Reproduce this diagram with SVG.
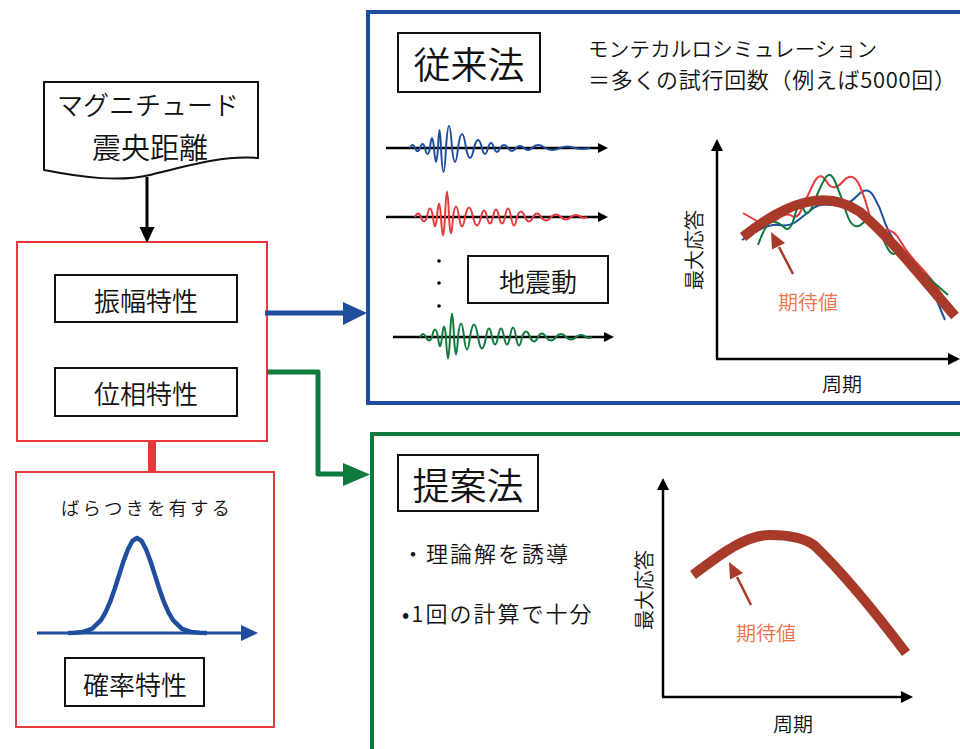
<svg xmlns="http://www.w3.org/2000/svg" width="960" height="749" viewBox="0 0 960 749">
<style>
text{font-family:"Noto Sans CJK JP","Liberation Sans",sans-serif;fill:#111;font-weight:350;}
.c{text-anchor:middle;dominant-baseline:central;}
.box{fill:#fff;stroke:#111;stroke-width:2;}
.red{fill:#fff;stroke:#e8393c;stroke-width:2;}
.ax{stroke:#000;stroke-width:2.5;fill:none;}
.axh{fill:#000;}
.wave{fill:none;stroke-width:2;stroke-linejoin:round;}
.thick{fill:none;stroke:#a83a2a;stroke-width:10;stroke-linecap:butt;}
.ev{fill:#f07048;font-size:20px;}
.ptr{stroke:#a83a2a;stroke-width:2.5;}
.ptrh{fill:#a83a2a;}
</style>
<rect width="960" height="749" fill="#fff"/>

<g id="conventional-panel">
<rect x="368" y="12" width="700" height="391" fill="#fff" stroke="#1f4e9e" stroke-width="4"/>
<rect class="box" x="398" y="33" width="142" height="59"/>
<text class="c" x="469" y="63" font-size="37">従来法</text>
<text x="588" y="57" font-size="20.5" textLength="289" lengthAdjust="spacing">モンテカルロシミュレーション</text>
<text x="588" y="88" font-size="22" textLength="368" lengthAdjust="spacing">＝多くの試行回数（例えば5000回）</text>
</g>

<g id="waveforms">
<line class="ax" x1="386" y1="148" x2="600" y2="148"/><path class="axh" d="M598,143 L608,148 L598,153 Z"/>
<path class="wave" stroke="#1f4e9e" d="M410,148 Q412.5,142 415,148 Q417.5,154 420,148 Q422.5,140 425,148 Q427.5,160 430,148 Q432,128 434,148 Q436,176 438,148 Q439.5,112 441,148 Q443.5,196 446,148 Q449,104 452,148 Q455,176 458,148 Q462,120 466,148 Q470,168 474,148 Q478,132 482,148 Q485,160 488,148 Q491,138 494,148 Q497,156 500,148 Q504,142 508,148 Q512,154 516,148 Q520,144 524,148 Q528,152 532,148 Q538,142 545,148 Q552,152 560,148 Q568,145 575,148 Q582,150 590,148"/>
<line class="ax" x1="386" y1="217" x2="600" y2="217"/><path class="axh" d="M598,212 L608,217 L598,222 Z"/>
<path class="wave" stroke="#e8393c" d="M415,217 Q418,210 421,217 Q424,226 427,217 Q430,200 433,217 Q435,236 437,217 Q439,190 441,217 Q443,254 445,217 Q447,166 449,217 Q451,250 453,217 Q456,196 459,217 Q462,236 465,217 Q469,198 473,217 Q477,234 481,217 Q484,204 487,217 Q490,230 493,217 Q496,202 499,217 Q502,230 505,217 Q508,200 511,217 Q514,234 517,217 Q521,206 525,217 Q529,226 533,217 Q537,210 541,217 Q546,224 551,217 Q556,212 561,217 Q566,222 571,217 Q576,213 581,217 Q584,219 587,217"/>
<circle cx="439" cy="261" r="1.8" fill="#000"/><circle cx="439" cy="283" r="1.8" fill="#000"/><circle cx="439" cy="306" r="1.8" fill="#000"/>
<line class="ax" x1="393" y1="337" x2="606" y2="337"/><path class="axh" d="M604,332 L614,337 L604,342 Z"/>
<path class="wave" stroke="#0e7a3c" d="M420,337 Q423,331 426,337 Q429,344 432,337 Q435,322 438,337 Q440,356 442,337 Q444,316 446,337 Q448,380 450,337 Q452,290 454,337 Q456,372 458,337 Q461,310 464,337 Q467,362 470,337 Q474,312 478,337 Q482,360 486,337 Q489,320 492,337 Q495,352 498,337 Q501,320 504,337 Q507,352 510,337 Q513,318 516,337 Q519,354 522,337 Q526,326 530,337 Q534,346 538,337 Q542,330 546,337 Q551,344 556,337 Q561,331 566,337 Q571,342 576,337 Q581,333 586,337 Q589,339 592,337"/>
</g>

<g id="ground-motion-label">
<rect class="box" x="468" y="256" width="140" height="47"/>
<text class="c" x="538" y="280" font-size="26">地震動</text>
</g>

<g id="chart-conventional">
<line class="ax" x1="717" y1="359" x2="717" y2="150" stroke-width="3"/><path class="axh" d="M711,151 L717,139 L723,151 Z"/>
<line class="ax" x1="716" y1="359" x2="950" y2="359" stroke-width="3"/><path class="axh" d="M948,353 L960,359 L948,365 Z"/>
<text class="c" x="693" y="250" font-size="20" transform="rotate(-90 693 250)">最大応答</text>
<text class="c" x="842" y="383" font-size="20">周期</text>
<path class="wave" stroke="#1f4e9e" d="M742,240 Q767,223 778.5,225 Q790,227 798.5,220 Q807,213 813.5,208 Q820,203 833.5,205 Q847,207 857,196 Q867,185 873.5,196 Q880,207 883.5,218.5 Q887,230 897,245 Q907,260 917,268.5 Q927,277 936,298.5 L945,320"/>
<path class="wave" stroke="#e8393c" d="M743,213 L755,220 Q767,227 777,219.5 Q787,212 792,216 Q797,220 802,208.5 Q807,197 813.5,183.5 Q820,170 826.5,181.5 Q833,193 843,181.5 Q853,170 860,186.5 Q867,203 870,218 Q873,233 883,230.5 Q893,228 900,240.5 Q907,253 920,266.5 Q933,280 943,296.5 L953,313"/>
<path class="wave" stroke="#0e7a3c" d="M758,245 Q767,220 773.5,221.5 Q780,223 785,228 Q790,233 795,215 Q800,197 803.5,208.5 Q807,220 813.5,203.5 Q820,187 825,178.5 Q830,170 835,181.5 Q840,193 846.5,213 Q853,233 863,223 Q873,213 881.5,235 Q890,257 895,253.5 Q900,250 911.5,261.5 Q923,273 935.5,284 L948,295"/>
<path class="thick" d="M743,237 C785,203 825,188 860,212 C893,240 925,282 955,316"/>
<line class="ptr" x1="793" y1="274" x2="779" y2="247"/>
<path class="ptrh" d="M771,232 L785,243 L772,249.5 Z"/>
<text class="c ev" x="808" y="301">期待値</text>
</g>

<g id="proposed-panel">
<rect x="372" y="434" width="700" height="400" fill="#fff" stroke="#0e7a3c" stroke-width="4"/>
<rect class="box" x="398" y="455" width="140" height="56"/>
<text class="c" x="468" y="484" font-size="37">提案法</text>
<text x="402" y="552" font-size="22" dominant-baseline="central" letter-spacing="2">・理論解を誘導</text>
<text x="402" y="612" font-size="22" dominant-baseline="central" letter-spacing="2">•1回の計算で十分</text>
</g>

<g id="chart-proposed">
<line class="ax" x1="663" y1="697" x2="663" y2="489" stroke-width="3"/><path class="axh" d="M657,490 L663,478 L669,490 Z"/>
<line class="ax" x1="662" y1="697" x2="903" y2="697" stroke-width="3"/><path class="axh" d="M901,691 L913,697 L901,703 Z"/>
<text class="c" x="643" y="590" font-size="20" transform="rotate(-90 643 590)">最大応答</text>
<text class="c" x="793" y="723" font-size="20">周期</text>
<path class="thick" d="M693,575 C720,555 745,535 770,535 C790,535 805,538 815,546 C845,575 875,612 906,653"/>
<line class="ptr" x1="751" y1="605" x2="737" y2="577"/>
<path class="ptrh" d="M729,562 L743,573 L730,579.5 Z"/>
<text class="c ev" x="766" y="632">期待値</text>
</g>

<g id="input-document">
<path d="M44,82 L258,82 L258,158 C225,155 190,165 150,175 C120,182 85,178 44,170 Z" fill="#fff" stroke="#111" stroke-width="2"/>
<text class="c" x="148" y="103" font-size="26">マグニチュード</text>
<text class="c" x="150" y="146" font-size="29">震央距離</text>
</g>

<g id="characteristics">
<rect class="red" x="17" y="242" width="250" height="199"/>
<rect class="box" x="55" y="275" width="182" height="47"/>
<text class="c" x="146" y="299" font-size="26">振幅特性</text>
<rect class="box" x="55" y="368" width="182" height="48"/>
<text class="c" x="146" y="392" font-size="26">位相特性</text>
</g>

<g id="probability">
<rect class="red" x="16" y="472" width="258" height="255"/>
<text class="c" x="147" y="507" font-size="18.5" letter-spacing="3">ばらつきを有する</text>
<line x1="37" y1="633" x2="245" y2="633" stroke="#1f4e9e" stroke-width="3"/>
<path d="M241,625 L258,633 L241,641 Z" fill="#1f4e9e"/>
<polyline fill="none" stroke="#1f4e9e" stroke-width="4.5" stroke-linejoin="round" points="68,633 74,632.8 83,631.9 92,628.8 101,620.1 105.5,612.4 110,602.2 114.5,589.5 119,575.4 123.5,561.3 128,549.2 132.5,540.9 137,538 141.5,540.9 146,549.2 150.5,561.3 155,575.4 159.5,589.5 164,602.2 168.5,612.4 173,620.1 182,628.8 191,631.9 200,632.8 207,633"/>
<rect class="box" x="65" y="658" width="139" height="48"/>
<text class="c" x="135" y="683" font-size="26">確率特性</text>
</g>

<g id="connectors">
<line x1="147" y1="177" x2="147" y2="228" stroke="#000" stroke-width="3"/>
<path d="M139.5,227 L147,243 L154.5,227 Z" fill="#000"/>
<line x1="152" y1="441" x2="152" y2="472" stroke="#e8393c" stroke-width="8"/>
<line x1="265" y1="313" x2="345" y2="313" stroke="#1f4e9e" stroke-width="5"/>
<path d="M343,302 L367,313 L343,325 Z" fill="#1f4e9e"/>
<polyline points="267,372 318,372 318,474 346,474" fill="none" stroke="#0e7a3c" stroke-width="5" stroke-linejoin="round"/>
<path d="M343,463 L370,474.5 L343,486 Z" fill="#0e7a3c"/>
</g>
</svg>
